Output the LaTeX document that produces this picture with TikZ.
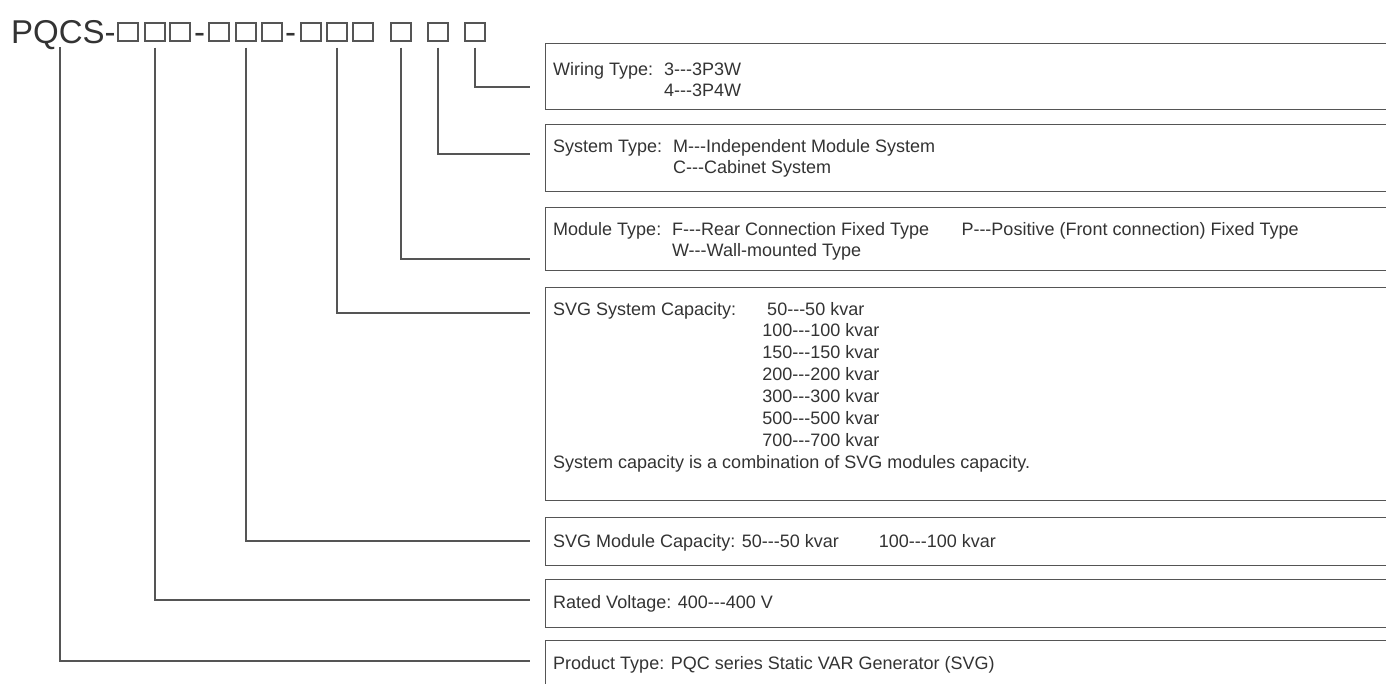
\documentclass[tikz,border=0pt]{standalone}
\usepackage{fontspec}
\setmainfont{Liberation Sans}
\newcommand{\ddd}{-\kern0pt-\kern0pt-}
\definecolor{txt}{HTML}{333333}
\definecolor{ln}{HTML}{555555}
\begin{document}
\begin{tikzpicture}[x=1pt,y=-1pt,
  boxnode/.style={draw=ln, line width=1.2pt, minimum width=900pt, inner sep=0pt, anchor=north west},
  conn/.style={draw=ln, line width=1.2pt, shorten <=6pt, shorten >=15pt},
  sq/.style={draw=ln, line width=1.3pt, minimum width=20pt, minimum height=18pt, inner sep=0pt},
  ttl/.style={text=txt, font=\fontsize{33}{36}\selectfont, inner sep=0pt, anchor=base west},
  lbl/.style={text=txt, font=\fontsize{18}{21.9}\selectfont, inner sep=0pt, anchor=base west, align=left}]
\clip (0,0) rectangle (1386,683);
% title
\node[ttl] (pq) at (11,43) {PQCS-};
\node[sq] (s1) at (128,32) {};
\node[sq] (s2) at (155,32) {};
\node[sq] (s3) at (180,32) {};
\node[ttl] (d1) at (194,43) {-};
\node[sq] (s4) at (219,32) {};
\node[sq] (s5) at (246,32) {};
\node[sq] (s6) at (272,32) {};
\node[ttl] (d2) at (285,43) {-};
\node[sq] (s7) at (311,32) {};
\node[sq] (s8) at (337,32) {};
\node[sq] (s9) at (363,32) {};
\node[sq] (s10) at (401,32) {};
\node[sq] (s11) at (438,32) {};
\node[sq] (s12) at (475,32) {};
\coordinate (q) at (60,41);
% boxes
\node[boxnode, minimum height=66pt] (b1) at (545,43) {};
\node[boxnode, minimum height=67pt] (b2) at (545,124) {};
\node[boxnode, minimum height=63pt] (b3) at (545,207) {};
\node[boxnode, minimum height=213pt] (b4) at (545,287) {};
\node[boxnode, minimum height=48pt] (b5) at (545,517) {};
\node[boxnode, minimum height=48pt] (b6) at (545,579) {};
\node[boxnode, minimum height=80pt] (b7) at (545,640) {};
% connector ends
\coordinate (e1) at (545,87);
\coordinate (e2) at (545,154);
\coordinate (e3) at (545,259);
\coordinate (e4) at (545,313);
\coordinate (e5) at (545,541);
\coordinate (e6) at (545,600);
\coordinate (e7) at (545,661);
\draw[conn] (s12.south) |- (e1);
\draw[conn] (s11.south) |- (e2);
\draw[conn] (s10.south) |- (e3);
\draw[conn] (s8.south) |- (e4);
\draw[conn] (s5.south) |- (e5);
\draw[conn] (s2.south) |- (e6);
\draw[conn] (q) |- (e7);
% texts
\node[lbl] (t1) at (553,75) {\begin{tabular}[t]{@{}l@{}l@{}}Wiring Type:\hspace{0.6em} & 3\ddd3P3W\\ & 4\ddd3P4W\end{tabular}};
\node[lbl] (t2) at (553,152) {\begin{tabular}[t]{@{}l@{}l@{}}System Type:\hspace{0.6em} & M\ddd Independent Module System\\ & C\ddd Cabinet System\end{tabular}};
\node[lbl] (t3) at (553,235) {\begin{tabular}[t]{@{}l@{}l@{}}Module Type:\hspace{0.6em} & F\ddd Rear Connection Fixed Type\hspace{1.8em}P\ddd Positive (Front connection) Fixed Type\\ & W\ddd Wall-mounted Type\end{tabular}};
\node[lbl] (t4) at (553,315) {\begin{tabular}[t]{@{}l@{}l@{}}SVG System Capacity:\hspace{26pt} & \hspace{5pt}50\ddd50 kvar\\
 & 100\ddd100 kvar\\ & 150\ddd150 kvar\\ & 200\ddd200 kvar\\ & 300\ddd300 kvar\\ & 500\ddd500 kvar\\ & 700\ddd700 kvar\\
\multicolumn{2}{@{}l@{}}{System capacity is a combination of SVG modules capacity.}\end{tabular}};
\node[lbl] (t5) at (553,547) {SVG Module Capacity: 50\ddd50 kvar\hspace{40pt}100\ddd100 kvar};
\node[lbl] (t6) at (553,608) {Rated Voltage: 400\ddd400 V};
\node[lbl] (t7) at (553,669) {Product Type: PQC series Static VAR Generator (SVG)};
\end{tikzpicture}
\end{document}
